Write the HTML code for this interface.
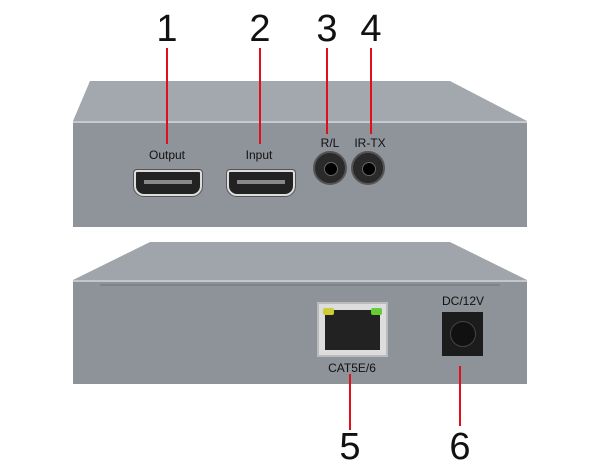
<!DOCTYPE html>
<html><head><style>
body{margin:0;width:600px;height:468px;background:#fff;position:relative;overflow:hidden;font-family:"Liberation Sans",sans-serif}
.a{position:absolute}
.num{position:absolute;font-size:38px;color:#111;width:40px;text-align:center;line-height:1}
.ln{position:absolute;width:2px;background:#e0101a}
.lbl{position:absolute;font-size:12px;color:#111;text-align:center;width:80px}
.hdmi{position:absolute;width:64px;height:22px;background:#222;border:2px solid #ddd;border-radius:3px 3px 10px 10px;box-shadow:0 0 0 1px #555}
.hdmi:after{content:"";position:absolute;left:8px;right:8px;top:8px;height:4px;background:#888}
.jack{position:absolute;width:30px;height:30px;border-radius:50%;background:#2a2a2a;border:2px solid #555}
.jack:after{content:"";position:absolute;left:9px;top:9px;width:12px;height:12px;border-radius:50%;background:#000;border:1px solid #666}
</style></head><body>
<svg class="a" style="left:0;top:0" width="600" height="468">
<polygon points="90,81 450,81 527,121 73,121" fill="#a3a7ae"/>
<rect x="73" y="121" width="454" height="106" fill="#8f939a"/>
<line x1="73" y1="122" x2="527" y2="122" stroke="#c6c9ce" stroke-width="2"/>
<polygon points="150,242 450,242 527,280 73,280" fill="#a0a4ab"/>
<rect x="73" y="280" width="454" height="104" fill="#8e9299"/>
<line x1="73" y1="281" x2="527" y2="281" stroke="#c3c6cb" stroke-width="2"/>
<line x1="100" y1="285" x2="500" y2="285" stroke="#6f737a" stroke-width="1"/>
</svg>
<div class="num" style="left:147px;top:10px">1</div>
<div class="num" style="left:240px;top:10px">2</div>
<div class="num" style="left:307px;top:10px">3</div>
<div class="num" style="left:351px;top:10px">4</div>
<div class="ln" style="left:166px;top:48px;height:96px"></div>
<div class="ln" style="left:259px;top:48px;height:96px"></div>
<div class="ln" style="left:326px;top:48px;height:86px"></div>
<div class="ln" style="left:370px;top:48px;height:86px"></div>
<div class="lbl" style="left:127px;top:148px">Output</div>
<div class="lbl" style="left:219px;top:148px">Input</div>
<div class="lbl" style="left:290px;top:136px">R/L</div>
<div class="lbl" style="left:330px;top:136px">IR-TX</div>
<div class="hdmi" style="left:134px;top:170px"></div>
<div class="hdmi" style="left:227px;top:170px"></div>
<div class="jack" style="left:313px;top:151px"></div>
<div class="jack" style="left:351px;top:151px"></div>
<div class="a" style="left:317px;top:302px;width:67px;height:51px;background:#ddd;border:2px solid #bbb">
 <div class="a" style="left:6px;top:6px;width:55px;height:40px;background:#222"></div>
 <div class="a" style="left:4px;top:4px;width:11px;height:7px;background:#cc3;border-radius:2px"></div>
 <div class="a" style="left:52px;top:4px;width:11px;height:7px;background:#6c3;border-radius:2px"></div>
</div>
<div class="lbl" style="left:312px;top:361px">CAT5E/6</div>
<div class="lbl" style="left:423px;top:294px">DC/12V</div>
<div class="a" style="left:442px;top:312px;width:41px;height:44px;background:#1c1c1c">
 <div class="a" style="left:8px;top:9px;width:24px;height:24px;border-radius:50%;background:#111;border:1px solid #444"></div>
</div>
<div class="ln" style="left:349px;top:374px;height:56px"></div>
<div class="ln" style="left:459px;top:366px;height:60px"></div>
<div class="num" style="left:330px;top:428px">5</div>
<div class="num" style="left:440px;top:428px">6</div>
</body></html>
